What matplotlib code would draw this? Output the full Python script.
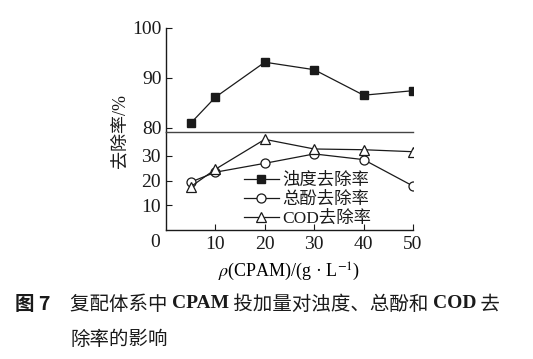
import matplotlib
matplotlib.use("Agg")
import matplotlib.pyplot as plt
import matplotlib.transforms as mtransforms
from matplotlib.text import Annotation

# ---- données ----
dose = [5, 10, 20, 30, 40, 50]
turbidite = [80.9, 86.1, 93.1, 91.6, 86.5, 87.4]
phenol = [19.4, 23.4, 27.0, 30.8, 28.5, 17.8]
cod = [17.5, 24.6, 36.7, 32.8, 32.5, 31.7]
labels = ["浊度去除率", "总酚去除率", "COD去除率"]
yticks_hi = [80, 90, 100]
yticks_lo = [10, 20, 30]
xticks = [10, 20, 30, 40, 50]

SERIF = ["Liberation Serif", "Noto Sans CJK SC"]
CJK = "Noto Sans CJK SC"
INK = "#1a1a1a"
plt.rcParams.update({
    "font.family": SERIF,
    "font.size": 13,
    "mathtext.fontset": "stix",
    "axes.edgecolor": INK,
    "axes.linewidth": 1.0,
    "xtick.direction": "in",
    "ytick.direction": "in",
    "xtick.major.size": 4,
    "ytick.major.size": 4,
    "xtick.color": INK,
    "ytick.color": INK,
    "text.color": INK,
})

W, H = 533, 359
fig = plt.figure(figsize=(W / 100, H / 100), dpi=100)

def fx(px):
    return px / W

def fy(py):
    return 1 - py / H

# axe coupé : partie haute (80-100) et partie basse (0-40)
x0, x1 = 166, 413
y_top, y_brk, y_bot = 27.7, 131.7, 230
ax_hi = fig.add_axes([fx(x0), fy(y_brk), fx(x1 - x0), (y_brk - y_top) / H])
ax_lo = fig.add_axes([fx(x0), fy(y_bot), fx(x1 - x0), (y_bot - y_brk) / H])

kw = dict(color=INK, lw=0.9)
ax_hi.plot(dose, turbidite, marker="s", ms=5.5, mfc=INK, mec=INK, **kw)
ax_lo.plot([], [], marker="s", ms=5.5, mfc=INK, mec=INK, label=labels[0], **kw)
ax_lo.plot(dose, phenol, marker="o", ms=6.5, mfc="white", mec=INK, mew=0.9,
           label=labels[1], **kw)
ax_lo.plot(dose, cod, marker="^", ms=7, mfc="white", mec=INK, mew=0.9,
           label=labels[2], **kw)

ax_hi.set_xlim(0, 50)
ax_lo.set_xlim(0, 50)
ax_hi.set_ylim(79.2, 100)
ax_lo.set_ylim(0, 39.8)

for s in ["top", "right", "bottom"]:
    ax_hi.spines[s].set_visible(False)
ax_lo.spines["right"].set_visible(False)
ax_lo.spines["top"].set_color("#444444")

ax_hi.set_xticks([])
ax_hi.set_yticks(yticks_hi)
ax_hi.tick_params(axis="y", pad=3, labelsize=14)
ax_lo.set_yticks(yticks_lo)
ax_lo.set_xticks(xticks)
ax_lo.tick_params(axis="both", pad=4, labelsize=14)

off = mtransforms.ScaledTranslation(-11 / 100, -4 / 100, fig.dpi_scale_trans)
ax_lo.text(0, 0, "0", transform=ax_lo.transData + off, ha="center", va="top",
           fontsize=14)

ax_lo.set_xlabel(r"$\rho$(CPAM)/(g · L$^{-1}$)", fontsize=13, labelpad=6)
fig.text(fx(120), fy(131), "去除率/%", rotation=90, ha="center", va="center",
         fontsize=13)

ax_lo.legend(loc="upper left", bbox_to_anchor=((244 - x0) / (x1 - x0), 0.58),
             frameon=False, fontsize=12.5, handlelength=2.0, handletextpad=0.2,
             labelspacing=0.15, borderaxespad=0, borderpad=0)

# ---- légende de la figure ----
cap_y1 = fy(304)
fig.text(fx(15), cap_y1, "图 7", fontsize=14, family=[CJK], weight="bold",
         va="center")
pieces = [("复配体系中 ", [CJK], "normal"),
          ("CPAM", ["Liberation Serif"], "bold"),
          (" 投加量对浊度、总酚和 ", [CJK], "normal"),
          ("COD", ["Liberation Serif"], "bold"),
          (" 去", [CJK], "normal")]
txt, fam, wt = pieces[0]
last = fig.text(fx(70), cap_y1, txt, fontsize=14, family=fam, weight=wt,
                va="center")
for txt, fam, wt in pieces[1:]:
    last = fig.add_artist(Annotation(
        txt, xy=(1, 0.5), xycoords=last, va="center", ha="left",
        fontsize=14, family=fam, weight=wt, annotation_clip=False))
fig.text(fx(70), fy(339), "除率的影响", fontsize=14, family=[CJK], va="center")

fig.savefig("out.png", dpi=100)
